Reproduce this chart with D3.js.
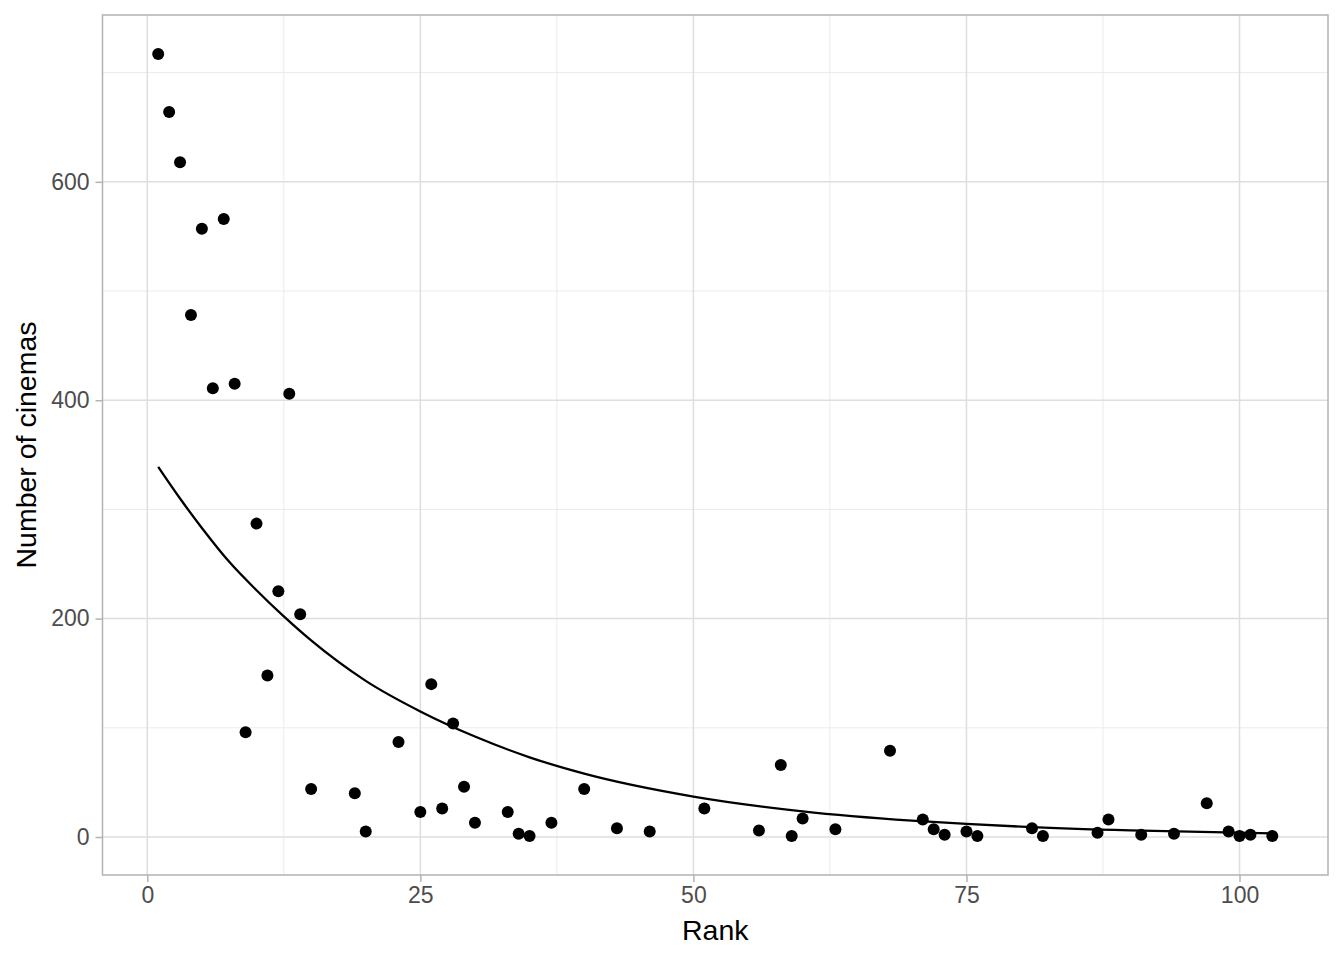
<!DOCTYPE html>
<html>
<head>
<meta charset="utf-8">
<script src="https://cdn.jsdelivr.net/npm/d3@7"></script>
<style>
  html, body { margin: 0; padding: 0; background: #fff; }
  svg { display: block; font-family: "Liberation Sans", Arial, Helvetica, sans-serif; }
</style>
</head>
<body>
<svg id="chart" width="1344" height="960"></svg>
<script>
// ---- data ----
const rank = [1, 2, 3, 4, 5, 6, 7, 8, 9, 10, 11, 12, 13, 14, 15, 19, 20, 23, 25, 26, 27, 28, 29, 30,
  33, 34, 35, 37, 40, 43, 46, 51, 56, 58, 59, 60, 63, 68, 71, 72, 73, 75, 76, 81, 82, 87, 88, 91, 94, 97, 99, 100, 101, 103];
const cinemas = [717, 664, 618, 478, 557, 411, 566, 415, 96, 287, 148, 225, 406, 204, 44, 40, 5, 87, 23, 140, 26, 104, 46, 13,
  23, 3, 1, 13, 44, 8, 5, 26, 6, 66, 1, 17, 7, 79, 16, 7, 2, 5, 1, 8, 1, 4, 16, 2, 3, 31, 5, 1, 2, 1];

// fitted curve
const fitRank = [1, 3, 5, 7.5, 10, 12.5, 15, 20, 25, 30, 35, 40, 50, 60, 70, 75, 80, 90, 103];
const fitValue = [339, 310, 283, 252, 226, 202, 180, 143, 115, 92, 73, 58, 37, 23.5, 15, 12, 9.5, 6, 3.4];

const xTicks = [0, 25, 50, 75, 100];
const yTicks = [0, 200, 400, 600];
const xMinor = [12.5, 37.5, 62.5, 87.5];
const yMinor = [100, 300, 500, 700];

const xLabel = "Rank";
const yLabel = "Number of cinemas";

// ---- layout ----
const svg = d3.select("#chart");
const panel = { left: 102.5, right: 1328, top: 15, bottom: 875 };

const xMin = d3.min(rank), xMax = d3.max(rank);
const xPad = (xMax - xMin) * 0.05;
const yMinV = d3.min(cinemas), yMaxV = d3.max(cinemas);
const yPad = (yMaxV - yMinV) * 0.05;

const x = d3.scaleLinear().domain([xMin - xPad, xMax + xPad]).range([panel.left, panel.right]);
const y = d3.scaleLinear().domain([yMinV - yPad, yMaxV + yPad]).range([panel.bottom, panel.top]);

const grid = svg.append("g");
// minor grid
grid.selectAll("line.xminor").data(xMinor).join("line")
  .attr("x1", d => x(d)).attr("x2", d => x(d))
  .attr("y1", panel.top).attr("y2", panel.bottom)
  .attr("stroke", "#EBEBEB").attr("stroke-width", 1);
grid.selectAll("line.yminor").data(yMinor).join("line")
  .attr("y1", d => y(d)).attr("y2", d => y(d))
  .attr("x1", panel.left).attr("x2", panel.right)
  .attr("stroke", "#EBEBEB").attr("stroke-width", 1);
// major grid
grid.selectAll("line.xmajor").data(xTicks).join("line")
  .attr("x1", d => x(d)).attr("x2", d => x(d))
  .attr("y1", panel.top).attr("y2", panel.bottom)
  .attr("stroke", "#DEDEDE").attr("stroke-width", 1.5);
grid.selectAll("line.ymajor").data(yTicks).join("line")
  .attr("y1", d => y(d)).attr("y2", d => y(d))
  .attr("x1", panel.left).attr("x2", panel.right)
  .attr("stroke", "#DEDEDE").attr("stroke-width", 1.5);

// axes
const xAxis = svg.append("g")
  .attr("transform", `translate(0,${panel.bottom})`)
  .call(d3.axisBottom(x).tickValues(xTicks).tickSize(7).tickPadding(5).tickFormat(d3.format("d")));
const yAxis = svg.append("g")
  .attr("transform", `translate(${panel.left},0)`)
  .call(d3.axisLeft(y).tickValues(yTicks).tickSize(7).tickPadding(6).tickFormat(d3.format("d")));
[xAxis, yAxis].forEach(a => {
  a.select(".domain").remove();
  a.selectAll(".tick line").attr("stroke", "#B3B3B3").attr("stroke-width", 1.5);
  a.selectAll(".tick text").attr("fill", "#4D4D4D").attr("font-size", 23)
    .attr("font-family", '"Liberation Sans", Arial, sans-serif');
});

// fitted curve
const line = d3.line().x((d, i) => x(fitRank[i])).y(d => y(d)).curve(d3.curveMonotoneX);
svg.append("path").datum(fitValue)
  .attr("d", line).attr("fill", "none").attr("stroke", "#000").attr("stroke-width", 2.3);

// points
svg.append("g").selectAll("circle").data(rank).join("circle")
  .attr("cx", d => x(d)).attr("cy", (d, i) => y(cinemas[i]))
  .attr("r", 6).attr("fill", "#000");

// panel border
svg.append("rect")
  .attr("x", panel.left).attr("y", panel.top)
  .attr("width", panel.right - panel.left).attr("height", panel.bottom - panel.top)
  .attr("fill", "none").attr("stroke", "#B3B3B3").attr("stroke-width", 1.5);

// titles
svg.append("text").text(xLabel)
  .attr("x", (panel.left + panel.right) / 2).attr("y", 940)
  .attr("text-anchor", "middle").attr("font-size", 28.5).attr("fill", "#000");
svg.append("text").text(yLabel)
  .attr("transform", `translate(36,${(panel.top + panel.bottom) / 2}) rotate(-90)`)
  .attr("text-anchor", "middle").attr("font-size", 28.5).attr("fill", "#000");
</script>
</body>
</html>
